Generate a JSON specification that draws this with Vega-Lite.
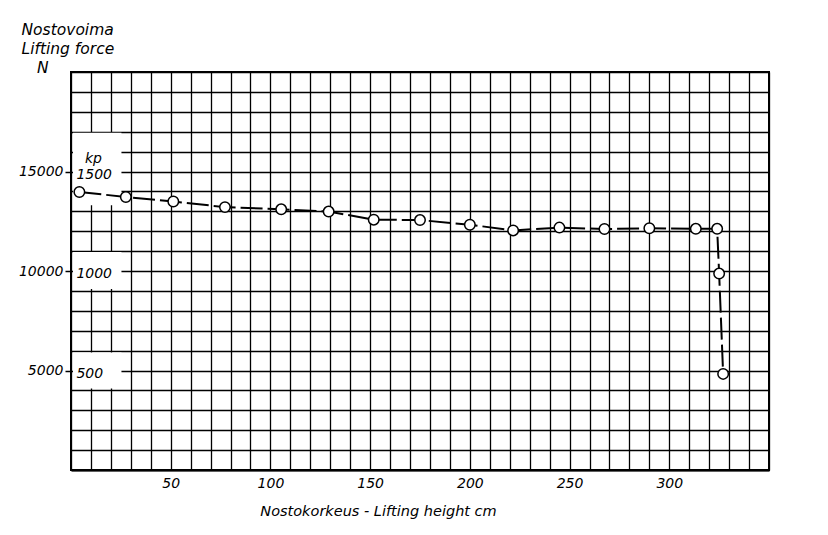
{
  "$schema": "https://vega.github.io/schema/vega-lite/v6.json",
  "width": 698,
  "height": 398,
  "autosize": "none",
  "padding": {"left": 71, "top": 72, "right": 59, "bottom": 65},
  "background": "white",
  "config": {"view": {"stroke": "black", "strokeWidth": 2}, "font": "DejaVu Sans"},
  "datasets": {
    "points": [
      {"x": 4.2, "y": 13970},
      {"x": 27.5, "y": 13720},
      {"x": 51.3, "y": 13490},
      {"x": 77.2, "y": 13210},
      {"x": 105.4, "y": 13100},
      {"x": 129.2, "y": 12985},
      {"x": 151.8, "y": 12580},
      {"x": 175, "y": 12560},
      {"x": 200, "y": 12325},
      {"x": 221.7, "y": 12040},
      {"x": 244.9, "y": 12180},
      {"x": 267.5, "y": 12110},
      {"x": 290, "y": 12150},
      {"x": 313.3, "y": 12120},
      {"x": 324, "y": 12120},
      {"x": 325, "y": 9870},
      {"x": 327, "y": 4830}
    ],
    "labels": [
      {"x": 2.7, "y": 15000, "label": "1500"},
      {"x": 2.7, "y": 10000, "label": "1000"},
      {"x": 2.7, "y": 5000, "label": "500"}
    ],
    "kp": [
      {"x": 7, "y": 15450, "label": "kp"}
    ],
    "boxes": [
      {"x": 1, "x2": 25.3, "y": 13300, "y2": 16950},
      {"x": 1, "x2": 25.3, "y": 9100, "y2": 10950},
      {"x": 1, "x2": 25.3, "y": 4100, "y2": 5900}
    ]
  },
  "encoding": {
    "x": {
      "field": "x",
      "type": "quantitative",
      "scale": {"domain": [0, 350], "nice": false},
      "axis": {
        "values": [0,10,20,30,40,50,60,70,80,90,100,110,120,130,140,150,160,170,180,190,200,210,220,230,240,250,260,270,280,290,300,310,320,330,340,350],
        "grid": true,
        "gridColor": "black",
        "gridWidth": 1.3,
        "gridOpacity": 1,
        "domain": true,
        "domainColor": "black",
        "domainWidth": 2,
        "ticks": false,
        "labelExpr": "(datum.value % 50 === 0 && datum.value > 0 && datum.value < 350) ? datum.label : ''",
        "labelOverlap": false,
        "labelFont": "DejaVu Sans",
        "labelFontStyle": "italic",
        "labelFontSize": 14,
        "labelColor": "black",
        "labelPadding": 6,
        "title": "Nostokorkeus - Lifting height cm",
        "titleFont": "DejaVu Sans",
        "titleFontStyle": "italic",
        "titleFontWeight": "normal",
        "titleFontSize": 14.5,
        "titleColor": "black",
        "titleX": 307,
        "titleY": 41,
        "titleAlign": "center",
        "titleBaseline": "middle"
      }
    },
    "y": {
      "field": "y",
      "type": "quantitative",
      "scale": {"domain": [0, 20000], "nice": false},
      "axis": {
        "values": [0,1000,2000,3000,4000,5000,6000,7000,8000,9000,10000,11000,12000,13000,14000,15000,16000,17000,18000,19000,20000],
        "grid": true,
        "gridColor": "black",
        "gridWidth": 1.3,
        "gridOpacity": 1,
        "domain": false,
        "ticks": true,
        "tickColor": "black",
        "tickWidth": 1.5,
        "tickSize": 6,
        "tickOpacity": {"condition": {"test": "datum.value % 5000 === 0 && datum.value > 0 && datum.value < 20000", "value": 1}, "value": 0},
        "labelExpr": "(datum.value % 5000 === 0 && datum.value > 0 && datum.value < 20000) ? datum.label : ''",
        "format": "d",
        "labelOverlap": false,
        "labelFont": "DejaVu Sans",
        "labelFontStyle": "italic",
        "labelFontSize": 14,
        "labelColor": "black",
        "labelPadding": 2,
        "title": ["Nostovoima", "Lifting force", "\u200b\u2003N"],
        "titleFont": "DejaVu Sans",
        "titleFontStyle": "italic",
        "titleFontWeight": "normal",
        "titleFontSize": 15.5,
        "titleColor": "black",
        "titleAngle": 0,
        "titleAlign": "left",
        "titleBaseline": "top",
        "titleLineHeight": 19,
        "titleX": -50,
        "titleY": -50
      }
    }
  },
  "layer": [
    {
      "data": {"name": "boxes"},
      "mark": {"type": "rect", "fill": "white", "stroke": null},
      "encoding": {
        "x2": {"field": "x2"},
        "y2": {"field": "y2"}
      }
    },
    {
      "data": {"name": "labels"},
      "mark": {"type": "text", "align": "left", "baseline": "middle", "dy": 3, "font": "DejaVu Sans", "fontStyle": "italic", "fontSize": 14, "color": "black"},
      "encoding": {"text": {"field": "label"}}
    },
    {
      "data": {"name": "kp"},
      "mark": {"type": "text", "align": "left", "baseline": "alphabetic", "font": "DejaVu Sans", "fontStyle": "italic", "fontSize": 14, "color": "black"},
      "encoding": {"text": {"field": "label"}}
    },
    {
      "data": {"name": "points"},
      "mark": {"type": "line", "color": "black", "strokeWidth": 2, "strokeDash": [22, 5]},
      "encoding": {}
    },
    {
      "data": {"name": "points"},
      "mark": {"type": "point", "shape": "circle", "filled": true, "fill": "white", "stroke": "black", "strokeWidth": 1.5, "size": 110, "opacity": 1},
      "encoding": {}
    }
  ]
}
